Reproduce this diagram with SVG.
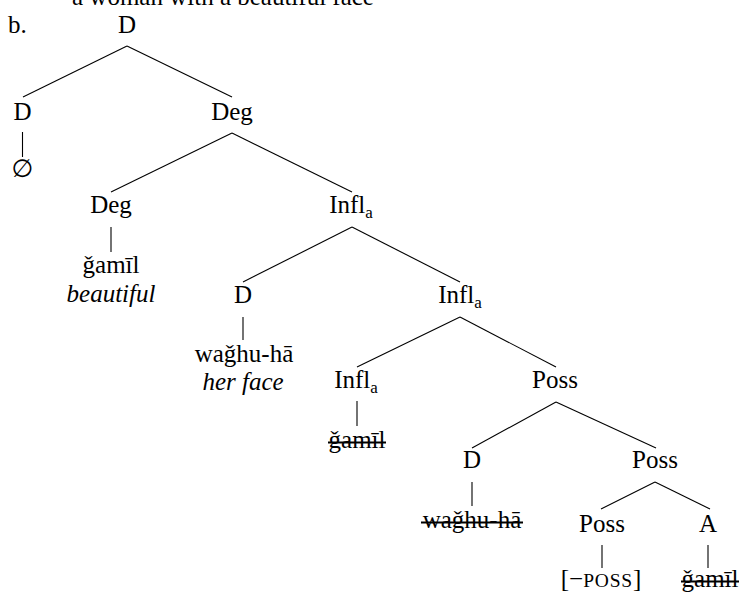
<svg xmlns="http://www.w3.org/2000/svg" width="740" height="592" viewBox="0 0 740 592">
<style>
text{font-family:'Liberation Serif','Times New Roman','DejaVu Serif',serif;font-size:25px;fill:#000}
.n{text-anchor:middle}
.it{font-style:italic}
.sub{font-size:17px}
.sc{font-size:19.5px;letter-spacing:0.8px}
.empty{font-family:'DejaVu Serif','DejaVu Sans',serif;font-size:25px}
.e line{stroke:#000;stroke-width:1.1;fill:none}
.bar{stroke:#000;stroke-width:2.4}
.strike{stroke:#000;stroke-width:2}
</style>
<rect width="740" height="592" fill="#fff"/>
<text x="72" y="5">a woman with a beautiful face</text>
<text x="8" y="33">b.</text>
<g id="connectors" class="e">
<line x1="127" y1="46" x2="23" y2="97"/>
<line x1="127" y1="46" x2="232" y2="97"/>
<line x1="232" y1="133" x2="111" y2="192"/>
<line x1="232" y1="133" x2="352" y2="192"/>
<line x1="352" y1="227" x2="243" y2="282"/>
<line x1="352" y1="227" x2="460" y2="282"/>
<line x1="460" y1="317" x2="357" y2="367"/>
<line x1="460" y1="317" x2="556" y2="367"/>
<line x1="556" y1="402" x2="472" y2="448"/>
<line x1="556" y1="402" x2="656" y2="448"/>
<line x1="655" y1="482" x2="601" y2="509"/>
<line x1="655" y1="482" x2="710" y2="509"/>
<line class="bar" x1="22.5" y1="132" x2="22.5" y2="157"/>
<line class="bar" x1="111" y1="227" x2="111" y2="252"/>
<line class="bar" x1="243" y1="317" x2="243" y2="340"/>
<line class="bar" x1="357" y1="401" x2="357" y2="426"/>
<line class="bar" x1="472" y1="482" x2="472" y2="506"/>
<line class="bar" x1="602" y1="545" x2="602" y2="568"/>
<line class="bar" x1="708" y1="545" x2="708" y2="568"/>
</g>
<g id="n-root"><text class="n" x="127" y="33">D</text></g>
<g id="n-d1"><text class="n" x="22.5" y="120">D</text><text class="n empty" x="22.5" y="177">∅</text></g>
<g id="n-deg1"><text class="n" x="232" y="120">Deg</text></g>
<g id="n-deg2"><text class="n" x="111" y="213">Deg</text><text class="n" x="111" y="273">ǧamīl</text><text class="n it" x="111" y="302">beautiful</text></g>
<g id="n-infl1"><text class="n" x="351" y="213">Infl<tspan class="sub" dy="5">a</tspan></text></g>
<g id="n-d3"><text class="n" x="243" y="303">D</text><text class="n" x="244" y="362">waǧhu-hā</text><text class="n it" x="243" y="390">her face</text></g>
<g id="n-infl2"><text class="n" x="460" y="303">Infl<tspan class="sub" dy="5">a</tspan></text></g>
<g id="n-infl3"><text class="n" x="356" y="388">Infl<tspan class="sub" dy="5">a</tspan></text><text class="n" x="357" y="448">ǧamīl</text><line class="strike" x1="328" y1="442.5" x2="386" y2="442.5"/></g>
<g id="n-poss1"><text class="n" x="555" y="388">Poss</text></g>
<g id="n-d5"><text class="n" x="472" y="468">D</text><text class="n" x="472" y="528">waǧhu-hā</text><line class="strike" x1="421" y1="522.5" x2="523" y2="522.5"/></g>
<g id="n-poss2"><text class="n" x="655" y="468">Poss</text></g>
<g id="n-poss3"><text class="n" x="602" y="532">Poss</text><text class="n" x="601" y="587">[−<tspan class="sc">POSS</tspan>]</text></g>
<g id="n-a"><text class="n" x="708" y="532">A</text><text class="n" x="710" y="587">ǧamīl</text><line class="strike" x1="681" y1="581.5" x2="739" y2="581.5"/></g>
</svg>
